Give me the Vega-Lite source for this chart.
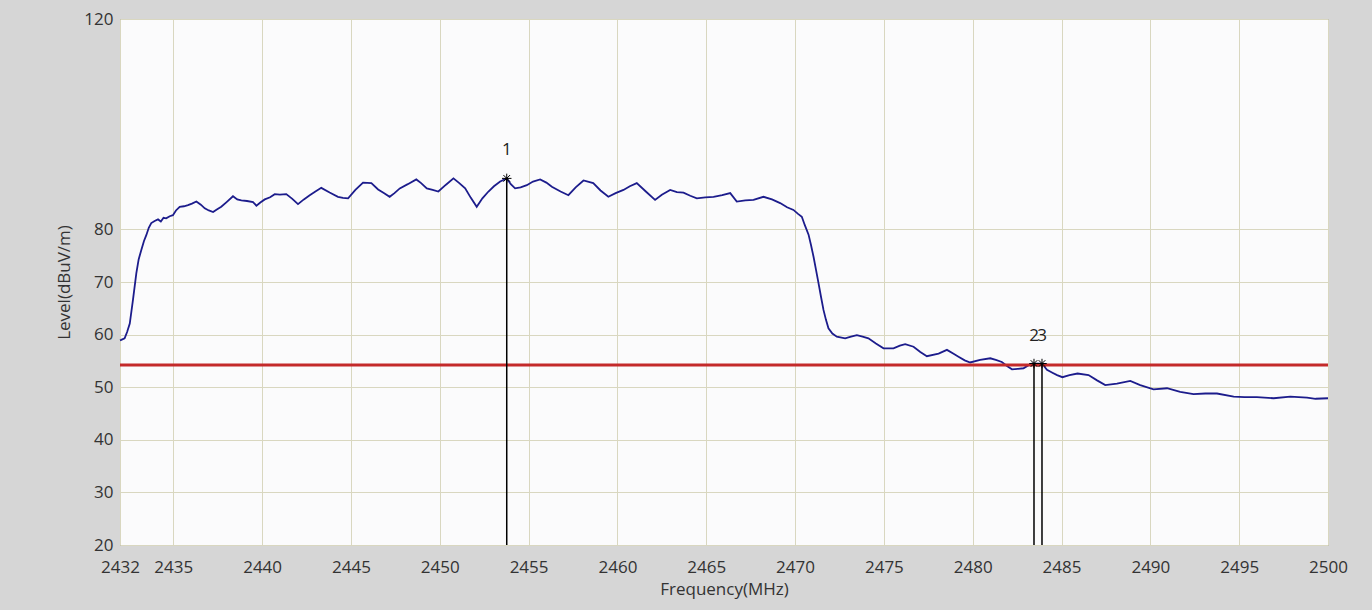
{
  "$schema": "https://vega.github.io/schema/vega-lite/v6.json",
  "width": 1208,
  "height": 526,
  "autosize": {"type": "none"},
  "padding": {"left": 120, "top": 19, "right": 44, "bottom": 65},
  "background": "#d6d6d6",
  "config": {
    "view": {"fill": "#fbfbfc", "stroke": "#7a7a7a", "strokeWidth": 1},
    "font": "Open Sans",
    "axis": {"labelFont": "Open Sans", "titleFont": "Open Sans", "labelColor": "#333333", "titleColor": "#333333", "titleFontWeight": "normal"}
  },
  "datasets": {
    "trace": [
      {"f": 2432.0, "level": 58.9}, {"f": 2432.07, "level": 59.0}, {"f": 2432.26, "level": 59.3}, {"f": 2432.4, "level": 60.5},
      {"f": 2432.55, "level": 62.1}, {"f": 2432.73, "level": 66.6}, {"f": 2432.92, "level": 71.7}, {"f": 2433.05, "level": 74.3},
      {"f": 2433.2, "level": 76.1}, {"f": 2433.35, "level": 77.8}, {"f": 2433.48, "level": 78.9}, {"f": 2433.62, "level": 80.3},
      {"f": 2433.76, "level": 81.2}, {"f": 2433.95, "level": 81.6}, {"f": 2434.14, "level": 81.9}, {"f": 2434.3, "level": 81.5},
      {"f": 2434.45, "level": 82.2}, {"f": 2434.6, "level": 82.1}, {"f": 2434.8, "level": 82.5}, {"f": 2434.98, "level": 82.7},
      {"f": 2435.15, "level": 83.6}, {"f": 2435.36, "level": 84.3}, {"f": 2435.6, "level": 84.4}, {"f": 2435.83, "level": 84.6},
      {"f": 2436.05, "level": 84.9}, {"f": 2436.3, "level": 85.3}, {"f": 2436.55, "level": 84.7}, {"f": 2436.77, "level": 84.0},
      {"f": 2437.0, "level": 83.6}, {"f": 2437.24, "level": 83.3}, {"f": 2437.45, "level": 83.8}, {"f": 2437.7, "level": 84.3},
      {"f": 2438.0, "level": 85.2}, {"f": 2438.36, "level": 86.3}, {"f": 2438.6, "level": 85.7}, {"f": 2438.83, "level": 85.5},
      {"f": 2439.15, "level": 85.4}, {"f": 2439.49, "level": 85.2}, {"f": 2439.68, "level": 84.5}, {"f": 2439.9, "level": 85.1},
      {"f": 2440.15, "level": 85.7}, {"f": 2440.45, "level": 86.1}, {"f": 2440.71, "level": 86.7}, {"f": 2441.0, "level": 86.6},
      {"f": 2441.36, "level": 86.7}, {"f": 2441.7, "level": 85.8}, {"f": 2442.02, "level": 84.8}, {"f": 2442.35, "level": 85.7},
      {"f": 2442.68, "level": 86.5}, {"f": 2443.0, "level": 87.2}, {"f": 2443.33, "level": 87.9}, {"f": 2443.8, "level": 87.0},
      {"f": 2444.27, "level": 86.2}, {"f": 2444.55, "level": 86.0}, {"f": 2444.84, "level": 85.9}, {"f": 2445.25, "level": 87.5},
      {"f": 2445.68, "level": 88.9}, {"f": 2446.15, "level": 88.8}, {"f": 2446.53, "level": 87.6}, {"f": 2446.85, "level": 86.9},
      {"f": 2447.18, "level": 86.2}, {"f": 2447.45, "level": 86.9}, {"f": 2447.75, "level": 87.8}, {"f": 2448.2, "level": 88.6},
      {"f": 2448.68, "level": 89.5}, {"f": 2448.95, "level": 88.8}, {"f": 2449.27, "level": 87.8}, {"f": 2449.6, "level": 87.5},
      {"f": 2449.92, "level": 87.2}, {"f": 2450.35, "level": 88.5}, {"f": 2450.77, "level": 89.7}, {"f": 2451.1, "level": 88.8},
      {"f": 2451.43, "level": 87.8}, {"f": 2451.75, "level": 86.0}, {"f": 2452.08, "level": 84.3}, {"f": 2452.4, "level": 85.9},
      {"f": 2452.74, "level": 87.2}, {"f": 2453.05, "level": 88.2}, {"f": 2453.4, "level": 89.1}, {"f": 2453.77, "level": 89.7},
      {"f": 2454.0, "level": 88.6}, {"f": 2454.24, "level": 87.8}, {"f": 2454.55, "level": 88.0}, {"f": 2454.9, "level": 88.4},
      {"f": 2455.25, "level": 89.1}, {"f": 2455.65, "level": 89.5}, {"f": 2456.0, "level": 88.9}, {"f": 2456.31, "level": 88.1},
      {"f": 2456.8, "level": 87.2}, {"f": 2457.24, "level": 86.5}, {"f": 2457.65, "level": 88.0}, {"f": 2458.09, "level": 89.3},
      {"f": 2458.64, "level": 88.8}, {"f": 2459.05, "level": 87.4}, {"f": 2459.49, "level": 86.2}, {"f": 2459.9, "level": 86.9},
      {"f": 2460.34, "level": 87.5}, {"f": 2460.7, "level": 88.2}, {"f": 2461.09, "level": 88.8}, {"f": 2461.6, "level": 87.2},
      {"f": 2462.12, "level": 85.6}, {"f": 2462.5, "level": 86.6}, {"f": 2462.97, "level": 87.5}, {"f": 2463.35, "level": 87.1},
      {"f": 2463.72, "level": 87.0}, {"f": 2464.1, "level": 86.4}, {"f": 2464.47, "level": 85.9}, {"f": 2464.95, "level": 86.1},
      {"f": 2465.41, "level": 86.2}, {"f": 2465.9, "level": 86.5}, {"f": 2466.35, "level": 86.9}, {"f": 2466.72, "level": 85.3},
      {"f": 2467.2, "level": 85.5}, {"f": 2467.66, "level": 85.6}, {"f": 2468.22, "level": 86.2}, {"f": 2468.7, "level": 85.7},
      {"f": 2469.16, "level": 85.0}, {"f": 2469.55, "level": 84.2}, {"f": 2469.91, "level": 83.7}, {"f": 2470.15, "level": 83.0},
      {"f": 2470.38, "level": 82.4}, {"f": 2470.55, "level": 80.8}, {"f": 2470.76, "level": 79.0}, {"f": 2470.9, "level": 77.0},
      {"f": 2471.04, "level": 74.8}, {"f": 2471.18, "level": 72.3}, {"f": 2471.32, "level": 69.8}, {"f": 2471.46, "level": 67.2},
      {"f": 2471.6, "level": 64.7}, {"f": 2471.74, "level": 62.8}, {"f": 2471.88, "level": 61.2}, {"f": 2472.1, "level": 60.2},
      {"f": 2472.35, "level": 59.6}, {"f": 2472.82, "level": 59.3}, {"f": 2473.15, "level": 59.6}, {"f": 2473.48, "level": 59.9},
      {"f": 2473.8, "level": 59.6}, {"f": 2474.13, "level": 59.3}, {"f": 2474.55, "level": 58.3}, {"f": 2474.98, "level": 57.4},
      {"f": 2475.54, "level": 57.4}, {"f": 2475.9, "level": 57.9}, {"f": 2476.2, "level": 58.2}, {"f": 2476.67, "level": 57.7},
      {"f": 2477.05, "level": 56.7}, {"f": 2477.42, "level": 55.9}, {"f": 2478.08, "level": 56.4}, {"f": 2478.55, "level": 57.1},
      {"f": 2478.9, "level": 56.4}, {"f": 2479.2, "level": 55.8}, {"f": 2479.55, "level": 55.1}, {"f": 2479.86, "level": 54.7},
      {"f": 2480.42, "level": 55.2}, {"f": 2480.99, "level": 55.5}, {"f": 2481.3, "level": 55.2}, {"f": 2481.64, "level": 54.8},
      {"f": 2481.95, "level": 54.0}, {"f": 2482.21, "level": 53.4}, {"f": 2482.55, "level": 53.5}, {"f": 2482.86, "level": 53.6},
      {"f": 2483.1, "level": 54.1}, {"f": 2483.33, "level": 54.5}, {"f": 2483.45, "level": 54.5}, {"f": 2483.71, "level": 54.5},
      {"f": 2483.9, "level": 54.5}, {"f": 2484.18, "level": 53.3}, {"f": 2484.46, "level": 52.8}, {"f": 2484.75, "level": 52.3},
      {"f": 2485.05, "level": 51.9}, {"f": 2485.45, "level": 52.3}, {"f": 2485.9, "level": 52.6}, {"f": 2486.52, "level": 52.3},
      {"f": 2487.0, "level": 51.3}, {"f": 2487.46, "level": 50.4}, {"f": 2488.12, "level": 50.7}, {"f": 2488.87, "level": 51.2},
      {"f": 2489.43, "level": 50.4}, {"f": 2490.18, "level": 49.6}, {"f": 2490.94, "level": 49.8}, {"f": 2491.68, "level": 49.1},
      {"f": 2492.43, "level": 48.7}, {"f": 2493.1, "level": 48.8}, {"f": 2493.75, "level": 48.8}, {"f": 2494.69, "level": 48.2},
      {"f": 2495.3, "level": 48.1}, {"f": 2496.0, "level": 48.1}, {"f": 2496.94, "level": 47.9}, {"f": 2497.88, "level": 48.2},
      {"f": 2498.82, "level": 48.0}, {"f": 2499.3, "level": 47.8}, {"f": 2500.0, "level": 47.9}
    ],
    "limit": [{"f": 2432, "level": 54.2}, {"f": 2500, "level": 54.2}],
    "markers": [
      {"f": 2453.77, "level": 89.7, "label": "1"},
      {"f": 2483.45, "level": 54.5, "label": "2"},
      {"f": 2483.9, "level": 54.5, "label": "3"}
    ]
  },
  "encoding": {
    "x": {
      "field": "f", "type": "quantitative", "title": "Frequency(MHz)",
      "scale": {"domain": [2432, 2500], "nice": false, "zero": false},
      "axis": {
        "values": [2432, 2435, 2440, 2445, 2450, 2455, 2460, 2465, 2470, 2475, 2480, 2485, 2490, 2495, 2500],
        "format": "d", "ticks": false, "domain": false, "labelFontSize": 17, "labelPadding": 14,
        "labelOverlap": false, "labelFlush": false, "labelBound": false,
        "gridColor": "#d9d7c0", "gridWidth": 1, "titleFontSize": 17, "titlePadding": 6
      }
    },
    "y": {
      "field": "level", "type": "quantitative", "title": "Level(dBuV/m)",
      "scale": {"domain": [20, 120], "nice": false, "zero": false},
      "axis": {
        "values": [20, 30, 40, 50, 60, 70, 80, 120],
        "ticks": false, "domain": false, "labelFontSize": 17, "labelPadding": 7,
        "labelOverlap": false, "labelFlush": false, "labelBound": false,
        "gridColor": "#d9d7c0", "gridWidth": 1, "titleFontSize": 17, "titlePadding": 10
      }
    }
  },
  "layer": [
    {"data": {"name": "trace"}, "mark": {"type": "line", "color": "#1c1c8c", "strokeWidth": 1.8}},
    {"data": {"name": "limit"}, "mark": {"type": "line", "color": "#c42a2a", "strokeWidth": 3}},
    {"data": {"name": "markers"}, "mark": {"type": "rule", "color": "#000000", "strokeWidth": 1.5}, "encoding": {"y2": {"datum": 20}}},
    {"data": {"name": "markers"}, "mark": {"type": "point", "shape": "M-1,0L1,0M0,-1L0,1M-0.7,-0.7L0.7,0.7M-0.7,0.7L0.7,-0.7", "size": 90, "filled": false, "stroke": "#000000", "strokeWidth": 1, "opacity": 1}},
    {"data": {"name": "markers"}, "mark": {"type": "text", "dy": -28, "fontSize": 17, "color": "#222222", "font": "Open Sans"}, "encoding": {"text": {"field": "label"}}}
  ]
}
